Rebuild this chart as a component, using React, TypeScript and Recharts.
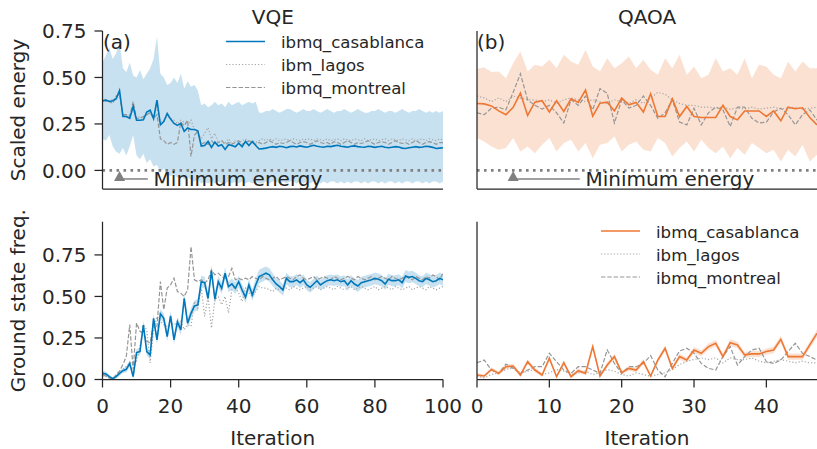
import React from 'react'
import { ComposedChart, Line, Area, XAxis, YAxis, ReferenceLine, ReferenceDot } from 'recharts'

// ---- VQE (ibmq_casablanca mean + band, ibm_lagos, ibmq_montreal), iterations 0..100
const VQE_E_MEAN = [0.375,0.378,0.371,0.375,0.385,0.43,0.29,0.29,0.28,0.344,
  0.27,0.27,0.272,0.314,0.324,0.278,0.378,0.245,0.263,0.306,
  0.276,0.253,0.242,0.253,0.21,0.228,0.22,0.22,0.213,0.131,
  0.134,0.156,0.124,0.152,0.131,0.138,0.113,0.138,0.134,0.127,
  0.147,0.127,0.156,0.134,0.156,0.134,0.115,0.117,0.12,0.125,
  0.128,0.124,0.13,0.127,0.122,0.128,0.13,0.126,0.132,0.128,
  0.125,0.13,0.135,0.13,0.127,0.125,0.13,0.128,0.132,0.135,
  0.13,0.128,0.125,0.13,0.132,0.128,0.126,0.125,0.13,0.128,
  0.124,0.127,0.13,0.125,0.122,0.125,0.128,0.126,0.12,0.118,
  0.122,0.125,0.128,0.124,0.126,0.13,0.128,0.124,0.118,0.12,0.122]
const VQE_E_HI = [0.58,0.62,0.66,0.6,0.63,0.69,0.55,0.53,0.58,0.51,
  0.5,0.54,0.49,0.52,0.55,0.6,0.72,0.52,0.5,0.46,
  0.47,0.5,0.47,0.52,0.44,0.48,0.45,0.46,0.43,0.35,
  0.36,0.34,0.35,0.37,0.35,0.36,0.34,0.37,0.35,0.36,
  0.37,0.35,0.36,0.37,0.36,0.37,0.31,0.31,0.32,0.32,
  0.33,0.32,0.31,0.32,0.33,0.33,0.32,0.31,0.32,0.33,
  0.32,0.32,0.33,0.32,0.31,0.32,0.33,0.32,0.31,0.32,
  0.32,0.33,0.32,0.31,0.32,0.33,0.32,0.31,0.31,0.32,
  0.32,0.33,0.32,0.31,0.32,0.32,0.31,0.32,0.33,0.32,
  0.31,0.32,0.32,0.33,0.32,0.31,0.32,0.31,0.32,0.31,0.32]
const VQE_E_LO = [0.17,0.16,0.19,0.13,0.1,0.09,0.12,0.08,0.13,0.19,
  0.08,0.06,0.09,0.04,0.06,0.02,0.03,-0.01,0.01,-0.02,
  -0.03,-0.02,-0.04,-0.03,-0.05,-0.04,-0.05,-0.06,-0.05,-0.07,
  -0.06,-0.07,-0.06,-0.07,-0.06,-0.07,-0.07,-0.06,-0.07,-0.06,
  -0.07,-0.06,-0.07,-0.06,-0.07,-0.06,-0.07,-0.07,-0.06,-0.07,
  -0.06,-0.06,-0.07,-0.06,-0.07,-0.06,-0.06,-0.07,-0.06,-0.07,
  -0.06,-0.07,-0.06,-0.06,-0.07,-0.06,-0.07,-0.06,-0.06,-0.07,
  -0.06,-0.07,-0.06,-0.07,-0.06,-0.06,-0.07,-0.06,-0.07,-0.06,
  -0.06,-0.07,-0.06,-0.07,-0.06,-0.06,-0.07,-0.06,-0.07,-0.06,
  -0.06,-0.07,-0.06,-0.06,-0.07,-0.06,-0.07,-0.06,-0.06,-0.07,-0.06]
const VQE_E_LAGOS = [0.38,0.37,0.375,0.38,0.39,0.42,0.3,0.29,0.3,0.33,
  0.28,0.29,0.28,0.3,0.31,0.29,0.34,0.26,0.27,0.29,
  0.28,0.27,0.25,0.27,0.26,0.24,0.27,0.22,0.2,0.17,
  0.2,0.23,0.17,0.2,0.15,0.16,0.15,0.17,0.14,0.16,
  0.15,0.16,0.17,0.15,0.16,0.15,0.16,0.17,0.16,0.17,
  0.16,0.17,0.16,0.165,0.17,0.16,0.17,0.165,0.16,0.17,
  0.165,0.17,0.16,0.17,0.165,0.16,0.17,0.16,0.165,0.17,
  0.16,0.17,0.165,0.16,0.17,0.165,0.16,0.17,0.16,0.165,
  0.17,0.16,0.165,0.17,0.16,0.17,0.165,0.16,0.17,0.165,
  0.16,0.17,0.16,0.165,0.17,0.16,0.17,0.165,0.16,0.17,0.165]
const VQE_E_MONTREAL = [0.37,0.38,0.37,0.36,0.4,0.41,0.3,0.3,0.29,0.37,
  0.28,0.28,0.29,0.3,0.31,0.28,0.3,0.17,0.16,0.14,
  0.15,0.14,0.15,0.26,0.24,0.27,0.075,0.19,0.21,0.14,
  0.15,0.14,0.16,0.14,0.15,0.16,0.14,0.15,0.14,0.15,
  0.16,0.14,0.15,0.16,0.15,0.14,0.15,0.14,0.15,0.16,
  0.15,0.14,0.15,0.145,0.15,0.16,0.15,0.14,0.15,0.155,
  0.15,0.14,0.15,0.16,0.15,0.145,0.15,0.14,0.155,0.15,
  0.14,0.15,0.16,0.15,0.14,0.15,0.145,0.15,0.16,0.15,
  0.14,0.15,0.155,0.15,0.14,0.15,0.16,0.15,0.145,0.15,
  0.14,0.15,0.16,0.15,0.14,0.15,0.155,0.15,0.14,0.15,0.15]

const VQE_F_MEAN = [0.037,0.033,0.017,0.005,0.017,0.037,0.053,0.061,0.097,0.017,
  0.162,0.168,0.328,0.168,0.148,0.368,0.238,0.395,0.368,0.258,
  0.383,0.238,0.348,0.298,0.489,0.338,0.399,0.443,0.449,0.589,
  0.583,0.489,0.654,0.483,0.589,0.549,0.64,0.559,0.575,0.549,
  0.589,0.539,0.495,0.569,0.509,0.569,0.62,0.63,0.64,0.63,
  0.6,0.575,0.559,0.539,0.609,0.589,0.589,0.6,0.583,0.6,
  0.569,0.555,0.575,0.595,0.569,0.583,0.595,0.6,0.595,0.6,
  0.589,0.595,0.569,0.595,0.575,0.563,0.583,0.589,0.595,0.6,
  0.609,0.603,0.595,0.575,0.603,0.595,0.595,0.6,0.583,0.623,
  0.615,0.62,0.609,0.595,0.589,0.609,0.6,0.589,0.595,0.609,0.6]
// half-width of the shaded band
const VQE_F_SPREAD = [0.015,0.015,0.012,0.01,0.012,0.015,0.015,0.018,0.02,0.015,
  0.022,0.022,0.03,0.025,0.025,0.03,0.028,0.03,0.03,0.028,
  0.03,0.028,0.03,0.03,0.035,0.03,0.032,0.032,0.035,0.035,
  0.035,0.032,0.035,0.032,0.035,0.033,0.035,0.033,0.033,0.035,
  0.035,0.033,0.035,0.035,0.035,0.04,0.04,0.042,0.04,0.04,
  0.038,0.036,0.035,0.035,0.035,0.033,0.033,0.033,0.032,0.032,
  0.032,0.032,0.032,0.033,0.032,0.032,0.032,0.032,0.032,0.032,
  0.032,0.032,0.033,0.033,0.035,0.036,0.036,0.035,0.035,0.035,
  0.035,0.035,0.034,0.034,0.033,0.033,0.033,0.033,0.035,0.036,
  0.035,0.035,0.034,0.033,0.033,0.034,0.035,0.035,0.034,0.035,0.035]
const VQE_F_LAGOS = [0.02,0.02,0.01,0.0,0.02,0.04,0.06,0.08,0.1,0.1,
  0.11,0.2,0.33,0.3,0.1,0.3,0.38,0.35,0.33,0.32,
  0.33,0.34,0.32,0.35,0.3,0.33,0.32,0.47,0.43,0.55,
  0.38,0.5,0.31,0.48,0.5,0.45,0.5,0.4,0.54,0.56,
  0.52,0.47,0.55,0.52,0.5,0.53,0.56,0.55,0.55,0.54,
  0.53,0.55,0.54,0.56,0.55,0.54,0.56,0.55,0.54,0.55,
  0.56,0.54,0.55,0.56,0.54,0.55,0.56,0.55,0.54,0.56,
  0.55,0.54,0.55,0.56,0.54,0.55,0.56,0.55,0.54,0.55,
  0.56,0.54,0.55,0.56,0.55,0.54,0.56,0.55,0.54,0.55,
  0.56,0.54,0.55,0.56,0.55,0.54,0.56,0.55,0.54,0.55,0.56]
const VQE_F_MONTREAL = [0.03,0.02,0.01,0.0,0.03,0.05,0.09,0.14,0.33,0.06,
  0.34,0.29,0.28,0.23,0.22,0.35,0.32,0.59,0.42,0.55,
  0.57,0.61,0.53,0.52,0.5,0.54,0.8,0.6,0.59,0.6,
  0.58,0.6,0.66,0.63,0.64,0.62,0.61,0.62,0.67,0.6,
  0.61,0.6,0.61,0.6,0.62,0.61,0.6,0.62,0.61,0.6,
  0.61,0.62,0.6,0.61,0.62,0.61,0.6,0.62,0.63,0.61,
  0.6,0.61,0.62,0.6,0.61,0.62,0.61,0.6,0.62,0.61,
  0.6,0.61,0.62,0.61,0.6,0.62,0.61,0.6,0.61,0.62,
  0.6,0.61,0.62,0.61,0.6,0.62,0.61,0.6,0.61,0.62,
  0.61,0.6,0.62,0.61,0.6,0.62,0.61,0.63,0.62,0.6,0.64]

// ---- QAOA, iterations 0..47
const QA_E_MEAN = [0.36,0.358,0.347,0.32,0.3,0.339,0.416,0.296,0.367,0.375,
  0.314,0.375,0.317,0.385,0.366,0.432,0.292,0.362,0.367,0.32,
  0.389,0.353,0.366,0.314,0.412,0.29,0.29,0.385,0.29,0.344,
  0.29,0.285,0.285,0.285,0.35,0.29,0.272,0.32,0.32,0.32,
  0.29,0.32,0.267,0.34,0.332,0.337,0.285,0.245]
const QA_E_HI = [0.547,0.554,0.529,0.532,0.496,0.577,0.64,0.532,0.568,0.559,
  0.595,0.55,0.622,0.586,0.568,0.649,0.559,0.532,0.604,0.55,
  0.577,0.613,0.55,0.595,0.541,0.514,0.604,0.55,0.622,0.514,
  0.559,0.496,0.514,0.604,0.532,0.55,0.514,0.604,0.496,0.568,
  0.559,0.514,0.496,0.586,0.532,0.586,0.55,0.55]
const QA_E_LO = [0.174,0.156,0.129,0.111,0.12,0.174,0.102,0.129,0.093,0.138,
  0.174,0.102,0.147,0.165,0.102,0.147,0.066,0.138,0.147,0.183,
  0.102,0.138,0.156,0.111,0.102,0.174,0.147,0.075,0.12,0.156,
  0.102,0.165,0.12,0.093,0.129,0.066,0.12,0.084,0.147,0.12,
  0.093,0.111,0.048,0.111,0.075,0.138,0.048,0.084]
const QA_E_LAGOS = [0.4,0.39,0.37,0.39,0.37,0.4,0.39,0.38,0.38,0.37,
  0.38,0.36,0.38,0.39,0.38,0.37,0.38,0.37,0.36,0.38,
  0.37,0.36,0.38,0.36,0.39,0.42,0.41,0.38,0.36,0.35,
  0.35,0.34,0.34,0.335,0.34,0.33,0.335,0.33,0.34,0.33,
  0.335,0.34,0.33,0.335,0.34,0.33,0.335,0.34]
const QA_E_MONTREAL = [0.31,0.3,0.335,0.34,0.326,0.42,0.52,0.38,0.35,0.33,
  0.35,0.31,0.255,0.38,0.35,0.4,0.326,0.44,0.415,0.255,
  0.38,0.335,0.35,0.4,0.35,0.28,0.31,0.38,0.26,0.245,
  0.335,0.245,0.31,0.34,0.326,0.236,0.34,0.34,0.28,0.255,
  0.26,0.314,0.335,0.3,0.245,0.3,0.326,0.27]

const QA_F_MEAN = [0.027,0.021,0.061,0.037,0.077,0.081,0.027,0.107,0.057,0.027,
  0.128,0.017,0.101,0.017,0.053,0.037,0.198,0.021,0.087,0.138,
  0.041,0.067,0.057,0.107,0.021,0.117,0.188,0.067,0.138,0.117,
  0.178,0.158,0.198,0.218,0.138,0.222,0.208,0.148,0.154,0.154,
  0.168,0.178,0.242,0.138,0.138,0.138,0.208,0.278]
const QA_F_SPREAD = [0.01,0.01,0.012,0.012,0.014,0.014,0.012,0.015,0.014,0.012,
  0.016,0.01,0.015,0.01,0.013,0.012,0.018,0.01,0.015,0.016,
  0.012,0.014,0.014,0.016,0.01,0.016,0.018,0.014,0.017,0.016,
  0.018,0.018,0.019,0.02,0.018,0.02,0.02,0.018,0.018,0.018,
  0.019,0.02,0.021,0.019,0.019,0.019,0.021,0.023]
const QA_F_LAGOS = [0.02,0.01,0.03,0.04,0.06,0.07,0.04,0.05,0.06,0.03,
  0.04,0.06,0.05,0.03,0.04,0.05,0.03,0.04,0.06,0.05,
  0.03,0.02,0.04,0.03,0.02,0.03,0.04,0.06,0.09,0.11,
  0.12,0.13,0.12,0.13,0.1,0.13,0.12,0.12,0.13,0.11,
  0.1,0.11,0.12,0.11,0.1,0.11,0.1,0.1]
const QA_F_MONTREAL = [0.101,0.117,0.057,0.037,0.093,0.067,0.037,0.057,0.077,0.077,
  0.158,0.107,0.057,0.037,0.077,0.077,0.057,0.037,0.178,0.097,
  0.037,0.077,0.077,0.097,0.144,0.057,0.017,0.097,0.172,0.188,
  0.158,0.097,0.067,0.057,0.138,0.198,0.087,0.138,0.178,0.188,
  0.107,0.097,0.117,0.168,0.218,0.158,0.138,0.117]

const VQE_X_TICKS = [0, 20, 40, 60, 80, 100]
const QA_X_TICKS = [0, 10, 20, 30, 40]
const Y_TICKS = [0, 0.25, 0.5, 0.75]
const DEVICES = ['ibmq_casablanca', 'ibm_lagos', 'ibmq_montreal']

const INK = '#262626'
const BLUE = '#0077BB'
const ORANGE = '#EE7733'
const LAGOS_GRAY = '#a6a6a6'
const MONTREAL_GRAY = '#969696'
const MIN_GRAY = '#808080'
const FS = 20

function rows(mean: number[], lo: number[], hi: number[], lagos: number[], montreal: number[]) {
  return mean.map((m, i) => ({ it: i, mean: m, band: [lo[i], hi[i]], lagos: lagos[i], montreal: montreal[i] }))
}

const vqeEnergy = rows(VQE_E_MEAN, VQE_E_LO, VQE_E_HI, VQE_E_LAGOS, VQE_E_MONTREAL)
const vqeFreq = rows(VQE_F_MEAN, VQE_F_MEAN.map((m, i) => m - VQE_F_SPREAD[i]),
  VQE_F_MEAN.map((m, i) => m + VQE_F_SPREAD[i]), VQE_F_LAGOS, VQE_F_MONTREAL)
const qaoaEnergy = rows(QA_E_MEAN, QA_E_LO, QA_E_HI, QA_E_LAGOS, QA_E_MONTREAL)
const qaoaFreq = rows(QA_F_MEAN, QA_F_MEAN.map((m, i) => Math.max(0, m - QA_F_SPREAD[i])),
  QA_F_MEAN.map((m, i) => m + QA_F_SPREAD[i]), QA_F_LAGOS, QA_F_MONTREAL)

type PanelProps = {
  data: any[]
  color: string
  left: number
  top: number
  width: number
  height: number
  marginTop: number
  marginRight: number
  yAxisWidth: number
  xAxisHeight: number
  xMax: number
  xTicks: number[]
  yDomain: [number, number]
  showX: boolean
  showY: boolean
  arrowEnd?: number
}

function Panel(p: PanelProps) {
  const tickStyle = { fill: INK, fontSize: FS }
  const spine = { stroke: INK, strokeWidth: 1.25 }
  return (
    <div style={{ position: 'absolute', left: p.left, top: p.top }}>
      <ComposedChart width={p.width} height={p.height} data={p.data}
        margin={{ top: p.marginTop, right: p.marginRight, left: 0, bottom: 0 }}>
        <XAxis dataKey="it" type="number" domain={[0, p.xMax]} ticks={p.xTicks} allowDataOverflow
          height={p.xAxisHeight} tickSize={8} tickMargin={11} tick={p.showX ? tickStyle : false}
          axisLine={spine} tickLine={spine} />
        <YAxis type="number" domain={p.yDomain} ticks={Y_TICKS} allowDataOverflow
          width={p.yAxisWidth} tickSize={8} tickMargin={8} tick={p.showY ? tickStyle : false}
          tickFormatter={(v: number) => v.toFixed(2)} axisLine={spine} tickLine={spine} />
        <XAxis xAxisId="top" orientation="top" type="number" domain={[0, p.xMax]} height={0}
          tick={false} tickLine={false} axisLine={spine} />
        <YAxis yAxisId="right" orientation="right" type="number" domain={p.yDomain} width={0}
          tick={false} tickLine={false} axisLine={spine} />
        <Area dataKey="band" type="linear" stroke="none" fill={p.color} fillOpacity={0.22}
          isAnimationActive={false} />
        <Line dataKey="lagos" type="linear" dot={false} stroke={LAGOS_GRAY} strokeWidth={1.2}
          strokeDasharray="1.2 2" isAnimationActive={false} />
        <Line dataKey="montreal" type="linear" dot={false} stroke={MONTREAL_GRAY} strokeWidth={1.2}
          strokeDasharray="4.4 1.9" isAnimationActive={false} />
        <Line dataKey="mean" type="linear" dot={false} stroke={p.color} strokeWidth={1.6}
          isAnimationActive={false} />
        {p.arrowEnd !== undefined && (
          <ReferenceLine y={0} stroke={MIN_GRAY} strokeWidth={2.6} strokeDasharray="2.6 4.4" />
        )}
        {p.arrowEnd !== undefined && (
          <ReferenceLine segment={[{ x: 5, y: -0.046 }, { x: p.arrowEnd, y: -0.046 }]}
            stroke={MIN_GRAY} strokeWidth={1.5} />
        )}
        {p.arrowEnd !== undefined && (
          <ReferenceDot x={5} y={-0.046} r={0}
            shape={(s: any) => (
              <path d={`M${s.cx - 5.5},${s.cy + 2}L${s.cx + 5.5},${s.cy + 2}L${s.cx},${s.cy - 8}Z`} fill={MIN_GRAY} />
            )} />
        )}
        {p.arrowEnd !== undefined && (
          <ReferenceDot x={15} y={-0.046} r={0}
            shape={(s: any) => (
              <text x={s.cx} y={s.cy} dominantBaseline="central" fontSize={FS} fill={INK}>Minimum energy</text>
            )} />
        )}
      </ComposedChart>
    </div>
  )
}

function LegendBlock({ x, y, color }: { x: number; y: number; color: string }) {
  const styles = [
    { stroke: color, dash: undefined, w: 1.6 },
    { stroke: LAGOS_GRAY, dash: '1.2 2', w: 1.2 },
    { stroke: MONTREAL_GRAY, dash: '4.4 1.9', w: 1.2 },
  ]
  return (
    <g>
      {DEVICES.map((name, i) => (
        <g key={name}>
          <line x1={x} x2={x + 39} y1={y + i * 23} y2={y + i * 23} stroke={styles[i].stroke}
            strokeWidth={styles[i].w} strokeDasharray={styles[i].dash} />
          <text x={x + 55} y={y + i * 23 + 1} dominantBaseline="central" fontSize={16.6} fill={INK}>{name}</text>
        </g>
      ))}
    </g>
  )
}

export default function App() {
  return (
    <div style={{ position: 'absolute', left: 0, top: 0, width: 817, height: 449, background: '#fff',
      fontFamily: '"DejaVu Sans", sans-serif' }}>
      <Panel data={vqeEnergy} color={BLUE} left={0} top={0} width={470} height={200} marginTop={31}
        marginRight={27} yAxisWidth={102.5} xAxisHeight={11} xMax={100} xTicks={VQE_X_TICKS}
        yDomain={[-0.1, 0.75]} showX={false} showY arrowEnd={13.3} />
      <Panel data={qaoaEnergy} color={ORANGE} left={460} top={0} width={357} height={200} marginTop={31}
        marginRight={0} yAxisWidth={17} xAxisHeight={11} xMax={47} xTicks={QA_X_TICKS}
        yDomain={[-0.1, 0.75]} showX={false} showY={false} arrowEnd={14.2} />
      <Panel data={vqeFreq} color={BLUE} left={0} top={205} width={470} height={244} marginTop={16.7}
        marginRight={27} yAxisWidth={102.5} xAxisHeight={69.5} xMax={100} xTicks={VQE_X_TICKS}
        yDomain={[0, 0.95]} showX showY />
      <Panel data={qaoaFreq} color={ORANGE} left={460} top={205} width={357} height={244} marginTop={16.7}
        marginRight={0} yAxisWidth={17} xAxisHeight={69.5} xMax={47} xTicks={QA_X_TICKS}
        yDomain={[0, 0.95]} showX showY={false} />
      <svg width={817} height={449} style={{ position: 'absolute', left: 0, top: 0, pointerEvents: 'none' }}>
        <text x={272.75} y={17} textAnchor="middle" dominantBaseline="central" fontSize={FS} fill={INK}>VQE</text>
        <text x={647} y={17} textAnchor="middle" dominantBaseline="central" fontSize={FS} fill={INK}>QAOA</text>
        <text x={103} y={42} dominantBaseline="central" fontSize={FS} fill={INK}>(a)</text>
        <text x={477} y={42} dominantBaseline="central" fontSize={FS} fill={INK}>(b)</text>
        <text transform="translate(18,110) rotate(-90)" textAnchor="middle" dominantBaseline="central"
          fontSize={FS} fill={INK}>Scaled energy</text>
        <text transform="translate(18,300.6) rotate(-90)" textAnchor="middle" dominantBaseline="central"
          fontSize={FS} fill={INK}>Ground state freq.</text>
        <text x={272.75} y={445} textAnchor="middle" fontSize={FS} fill={INK}>Iteration</text>
        <text x={647} y={445} textAnchor="middle" fontSize={FS} fill={INK}>Iteration</text>
        <LegendBlock x={226} y={41.5} color={BLUE} />
        <LegendBlock x={601} y={231} color={ORANGE} />
      </svg>
    </div>
  )
}
